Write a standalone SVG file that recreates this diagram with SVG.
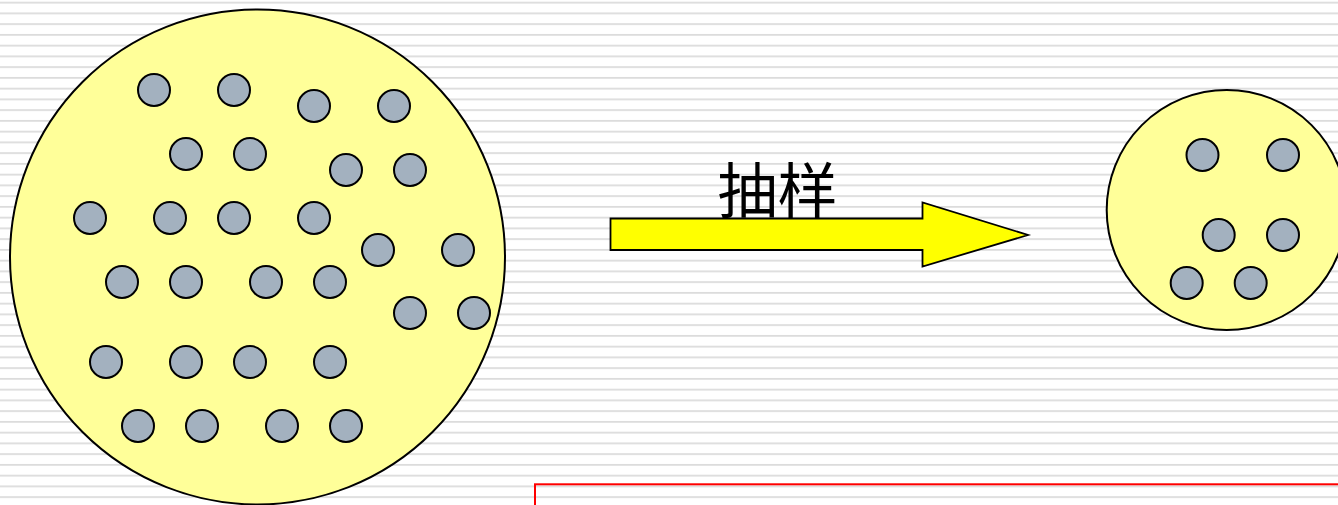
<svg xmlns="http://www.w3.org/2000/svg" width="1338" height="505" viewBox="0 0 1338 505">
<style>
.pop{fill:#ffff99;stroke:#000;stroke-width:2}
.dot{fill:#a3b1bf;stroke:#000;stroke-width:2}
.lbl{font-family:"Noto Sans CJK SC","Noto Sans CJK JP",sans-serif;font-size:60px;fill:#000}
</style>
<defs>
<pattern id="stripes" patternUnits="userSpaceOnUse" x="0" y="1.7" width="20" height="10.75">
<rect x="0" y="0" width="20" height="1.8" fill="#dcdcdc"/>
</pattern>
</defs>
<rect width="1338" height="505" fill="#fff"/>
<rect width="1338" height="505" fill="url(#stripes)"/>
<g id="population">
<circle class="pop" cx="257.5" cy="257" r="247.5"/>
<circle class="dot" cx="154" cy="90" r="16"/>
<circle class="dot" cx="234" cy="90" r="16"/>
<circle class="dot" cx="314" cy="106" r="16"/>
<circle class="dot" cx="394" cy="106" r="16"/>
<circle class="dot" cx="186" cy="154" r="16"/>
<circle class="dot" cx="250" cy="154" r="16"/>
<circle class="dot" cx="346" cy="170" r="16"/>
<circle class="dot" cx="410" cy="170" r="16"/>
<circle class="dot" cx="90" cy="218" r="16"/>
<circle class="dot" cx="170" cy="218" r="16"/>
<circle class="dot" cx="234" cy="218" r="16"/>
<circle class="dot" cx="314" cy="218" r="16"/>
<circle class="dot" cx="378" cy="250" r="16"/>
<circle class="dot" cx="458" cy="250" r="16"/>
<circle class="dot" cx="122" cy="282" r="16"/>
<circle class="dot" cx="186" cy="282" r="16"/>
<circle class="dot" cx="266" cy="282" r="16"/>
<circle class="dot" cx="330" cy="282" r="16"/>
<circle class="dot" cx="410" cy="313" r="16"/>
<circle class="dot" cx="474" cy="313" r="16"/>
<circle class="dot" cx="106" cy="362" r="16"/>
<circle class="dot" cx="186" cy="362" r="16"/>
<circle class="dot" cx="250" cy="362" r="16"/>
<circle class="dot" cx="330" cy="362" r="16"/>
<circle class="dot" cx="138" cy="426" r="16"/>
<circle class="dot" cx="202" cy="426" r="16"/>
<circle class="dot" cx="282" cy="426" r="16"/>
<circle class="dot" cx="346" cy="426" r="16"/>
</g>
<g id="connectors">
<polygon points="610.5,218.5 922.5,218.5 922.5,202.5 1028,235 922.5,266.5 922.5,250 610.5,250" fill="#ffff00" stroke="#000" stroke-width="1.8"/>
<text class="lbl" x="777.5" y="213" text-anchor="middle">抽样</text>
</g>
<g id="sample">
<circle class="pop" cx="1226.7" cy="210" r="120"/>
<circle class="dot" cx="1202.5" cy="155" r="16"/>
<circle class="dot" cx="1283" cy="155" r="16"/>
<circle class="dot" cx="1218.7" cy="235" r="16"/>
<circle class="dot" cx="1283" cy="235" r="16"/>
<circle class="dot" cx="1186.7" cy="283" r="16"/>
<circle class="dot" cx="1250.7" cy="283" r="16"/>
</g>
<g id="box">
<rect x="535" y="484.3" width="820" height="40" fill="none" stroke="#ff0000" stroke-width="2"/>
</g>
</svg>
